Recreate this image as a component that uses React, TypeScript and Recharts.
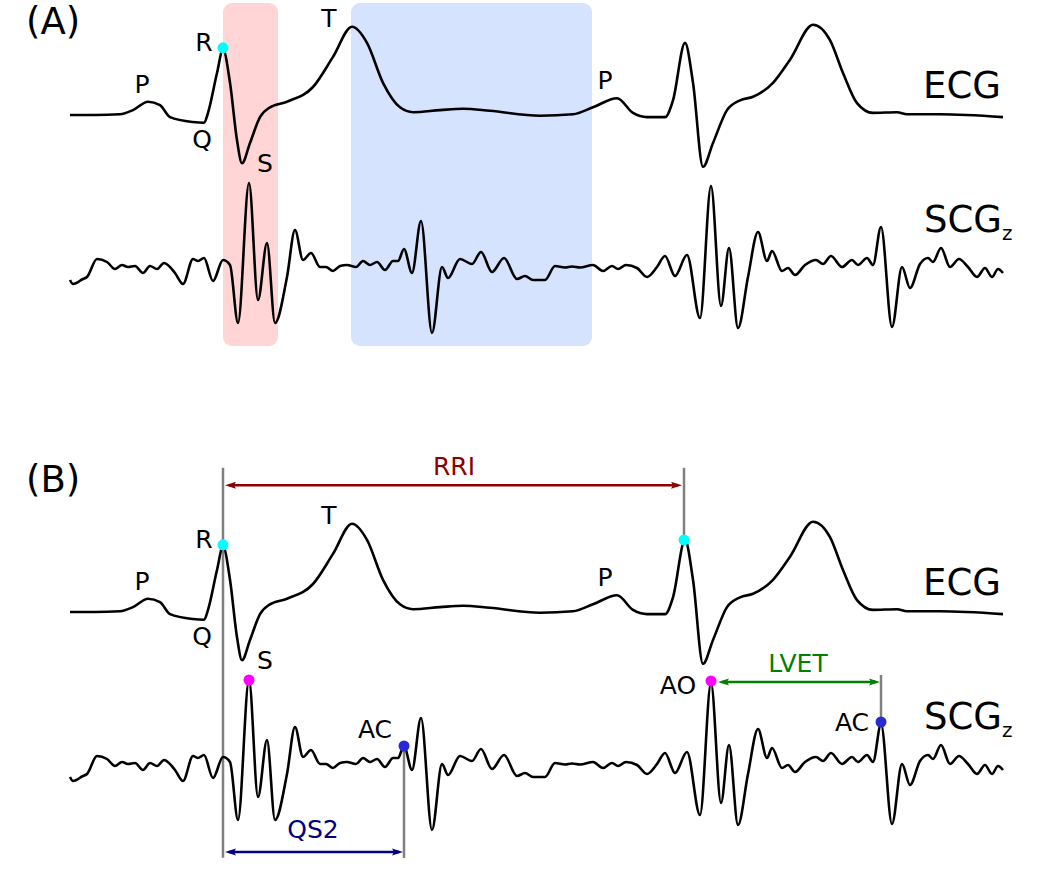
import React from 'react';
import {
  LineChart,
  Line,
  XAxis,
  YAxis,
  ReferenceArea,
  ReferenceLine,
  ReferenceDot
} from 'recharts';

const W = 1063;
const H = 879;
const FONT = '"DejaVu Sans", Verdana, sans-serif';

// ECG, time in ms, amplitude in mV
const ecgTime = [
  0, 50, 100, 126, 156, 180, 200, 246, 268, 276, 294, 306, 320, 334, 344, 360,
  380, 400, 434, 486, 526, 564, 594, 626, 660, 686, 740, 786, 840, 940, 1006,
  1046, 1094, 1126, 1154, 1190, 1206, 1230, 1246, 1266, 1286, 1314, 1340, 1366,
  1406, 1440, 1486, 1520, 1546, 1574, 1606, 1654, 1674, 1740, 1866
];
const ecgMv = [
  0, 0, 0.01, 0.07, 0.19, 0.14, -0.03, -0.1, -0.11, 0.03, 0.6, 0.94, 0.46,
  -0.36, -0.69, -0.4, -0.03, 0.11, 0.19, 0.4, 0.83, 1.26, 1.03, 0.46, 0.11,
  0.04, 0.07, 0.09, 0.06, -0.01, 0.01, 0.11, 0.24, 0.03, -0.03, -0.03, 0.21,
  1.03, 0.46, -0.74, -0.4, 0.07, 0.21, 0.26, 0.46, 0.79, 1.29, 1.07, 0.6, 0.17,
  0.03, 0.04, 0.01, 0.01, -0.03
];

// SCG (z axis), same time base, arbitrary units
const scgTime = [
  0, 6, 26, 34, 54, 74, 90, 104, 116, 130, 146, 160, 174, 188, 210, 226, 246,
  256, 268, 286, 306, 320, 336, 358, 376, 394, 410, 434, 450, 466, 482, 500,
  512, 526, 540, 554, 572, 586, 600, 614, 630, 646, 656, 668, 684, 702, 724,
  744, 756, 780, 804, 822, 844, 868, 894, 910, 926, 950, 970, 990, 1004, 1020,
  1046, 1066, 1084, 1096, 1112, 1134, 1154, 1174, 1190, 1210, 1234, 1260, 1282,
  1302, 1318, 1336, 1356, 1376, 1394, 1404, 1424, 1436, 1450, 1470, 1492, 1506,
  1522, 1544, 1564, 1576, 1594, 1606, 1622, 1644, 1664, 1680, 1700, 1716, 1726,
  1742, 1760, 1778, 1796, 1814, 1830, 1844, 1856, 1866
];
const scgAmp = [
  -0.2, -0.28, -0.18, -0.14, 0.22, 0.16, 0.02, 0.1, 0.06, 0.08, -0.06, 0.08,
  0.02, 0.14, -0.06, -0.28, 0.22, 0.18, 0.24, -0.22, 0.2, 0.1, -1.06, 1.74,
  -0.6, 0.54, -1.06, -0.14, 0.8, 0.2, 0.34, 0.06, 0.06, -0.02, 0.08, 0.1, 0.06,
  0.18, 0.1, 0.16, 0.0, 0.18, 0.18, 0.42, -0.06, 0.98, -1.26, 0.06, -0.16, 0.22,
  0.12, 0.36, -0.04, 0.24, -0.18, -0.12, -0.2, -0.2, 0.08, 0.05, 0.07, 0.05,
  0.1, -0.02, 0.08, 0.02, 0.1, 0.04, -0.14, 0.06, 0.28, -0.12, 0.3, -0.96, 1.68,
  -0.72, 0.44, -1.16, -0.14, 0.76, 0.18, 0.38, -0.02, 0.04, -0.1, 0.1, 0.2,
  0.12, 0.28, 0.06, 0.2, 0.1, 0.24, 0.1, 0.86, -1.14, 0.06, -0.36, 0.12, 0.24,
  0.16, 0.44, 0.06, 0.22, 0.06, -0.14, 0.04, -0.14, 0.02, -0.06
];

// ECG wave names
const waveNames = ['P', 'R', 'Q', 'S', 'T', 'P'];
const waveLabelTime = [144, 268, 264, 390, 518, 1070];
const waveLabelMv = [0.31, 0.91, -0.47, -0.81, 1.26, 0.37];

// fiducial points
const rPeakTime = [306, 1228];
const rPeakMv = [0.96, 1.03];
const aoTime = [358, 1282];
const aoAmp = [1.74, 1.72];
const acTime = [668, 1622];
const acAmp = [0.42, 0.9];

// highlighted windows in (A)
const shadeStart = [306, 562];
const shadeEnd = [416, 1044];
const shadeColors = ['#ffd5d5', '#d5e3fe'];

const ecgData = ecgTime.map((t, i) => ({ t, v: ecgMv[i] }));
const scgData = scgTime.map((t, i) => ({ t, v: scgAmp[i] }));

// y domain so that value 0 sits at baselinePx
const dom = (baselinePx: number, pxPerUnit: number) => [
  -(H - baselinePx) / pxPerUnit,
  baselinePx / pxPerUnit
];
const ECG_PX = 70;
const SCG_PX = 50;
const LABEL = 25;

const textAt = (text: string, size: number, color = '#000') => (p: any) => (
  <text
    x={p.cx}
    y={p.cy}
    textAnchor="middle"
    fontSize={size}
    fill={color}
    fontFamily={FONT}
  >
    {text}
  </text>
);

const arrowShape = (color: string, padL = 2, padR = 2) => (p: any) => {
  const xa = Math.min(p.x1, p.x2) + padL;
  const xb = Math.max(p.x1, p.x2) - padR;
  const y = p.y1;
  const len = 11;
  const hw = 3.5;
  return (
    <g>
      <line x1={xa + 4} y1={y} x2={xb - 4} y2={y} stroke={color} strokeWidth={2.4} />
      <polygon
        points={`${xa},${y} ${xa + len},${y - hw} ${xa + len - 2},${y} ${xa + len},${y + hw}`}
        fill={color}
      />
      <polygon
        points={`${xb},${y} ${xb - len},${y - hw} ${xb - len + 2},${y} ${xb - len},${y + hw}`}
        fill={color}
      />
    </g>
  );
};

const App = () => {
  const lines = [
    { id: 'ecgA', data: ecgData },
    { id: 'scgA', data: scgData },
    { id: 'ecgB', data: ecgData },
    { id: 'scgB', data: scgData }
  ];
  return (
    <div style={{ position: 'absolute', left: 0, top: 0, width: W, height: H, background: '#fff' }}>
      <LineChart width={W} height={H} margin={{ top: 0, right: 0, bottom: 0, left: 0 }}>
        <XAxis dataKey="t" type="number" domain={[-140, 1986]} allowDataOverflow hide />
        <YAxis yAxisId="ecgA" type="number" domain={dom(115, ECG_PX)} allowDataOverflow hide />
        <YAxis yAxisId="scgA" type="number" domain={dom(270, SCG_PX)} allowDataOverflow hide />
        <YAxis yAxisId="ecgB" type="number" domain={dom(612, ECG_PX)} allowDataOverflow hide />
        <YAxis yAxisId="scgB" type="number" domain={dom(767, SCG_PX)} allowDataOverflow hide />

        {shadeStart.map((s, i) => (
          <ReferenceArea
            key={'sh' + i}
            yAxisId="ecgA"
            x1={s}
            x2={shadeEnd[i]}
            y1={-3.3}
            y2={1.6}
            shape={(p: any) => (
              <rect x={p.x} y={p.y} width={p.width} height={p.height} rx={9} fill={shadeColors[i]} />
            )}
          />
        ))}

        {/* vertical markers in (B) */}
        <ReferenceLine
          yAxisId="ecgB"
          segment={[{ x: rPeakTime[0], y: 2.06 }, { x: rPeakTime[0], y: -3.51 }]}
          stroke="#808080"
          strokeWidth={2.5}
        />
        <ReferenceLine
          yAxisId="ecgB"
          segment={[{ x: rPeakTime[1], y: 2.06 }, { x: rPeakTime[1], y: rPeakMv[1] }]}
          stroke="#808080"
          strokeWidth={2.5}
        />
        <ReferenceLine
          yAxisId="scgB"
          segment={[{ x: acTime[0], y: acAmp[0] }, { x: acTime[0], y: -1.82 }]}
          stroke="#808080"
          strokeWidth={2.5}
        />
        <ReferenceLine
          yAxisId="scgB"
          segment={[{ x: acTime[1], y: 1.84 }, { x: acTime[1], y: acAmp[1] }]}
          stroke="#808080"
          strokeWidth={2.5}
        />

        {lines.map((l) => (
          <Line
            key={l.id}
            yAxisId={l.id}
            data={l.data}
            dataKey="v"
            type="monotone"
            stroke="#000"
            strokeWidth={2.6}
            dot={false}
            activeDot={false}
            isAnimationActive={false}
          />
        ))}

        {/* intervals */}
        <ReferenceLine
          yAxisId="ecgB"
          segment={[{ x: rPeakTime[0], y: 1.81 }, { x: rPeakTime[1], y: 1.81 }]}
          shape={arrowShape('#8b0000')}
        />
        <ReferenceLine
          yAxisId="scgB"
          segment={[{ x: rPeakTime[0], y: -1.7 }, { x: acTime[0], y: -1.7 }]}
          shape={arrowShape('#000080', 2, 1)}
        />
        <ReferenceLine
          yAxisId="scgB"
          segment={[{ x: aoTime[1], y: 1.7 }, { x: acTime[1], y: 1.7 }]}
          shape={arrowShape('#008000', 7, 1)}
        />

        {/* wave labels */}
        {['ecgA', 'ecgB'].map((ax) =>
          waveNames.map((n, i) => (
            <ReferenceDot
              key={ax + i}
              yAxisId={ax}
              x={waveLabelTime[i]}
              y={waveLabelMv[i]}
              r={0}
              shape={textAt(n, LABEL)}
            />
          ))
        )}

        {/* R peaks */}
        <ReferenceDot yAxisId="ecgA" x={rPeakTime[0]} y={rPeakMv[0]} r={5.5} fill="#00ffff" stroke="none" />
        {rPeakTime.map((t, i) => (
          <ReferenceDot key={'r' + i} yAxisId="ecgB" x={t} y={rPeakMv[i]} r={5.5} fill="#00ffff" stroke="none" />
        ))}
        {aoTime.map((t, i) => (
          <ReferenceDot key={'ao' + i} yAxisId="scgB" x={t} y={aoAmp[i]} r={5.5} fill="#ff00ff" stroke="none" />
        ))}
        {acTime.map((t, i) => (
          <ReferenceDot key={'ac' + i} yAxisId="scgB" x={t} y={acAmp[i]} r={5.5} fill="#2a2ad5" stroke="none" />
        ))}

        {/* SCG and interval labels */}
        <ReferenceDot yAxisId="scgB" x={610} y={0.58} r={0} shape={textAt('AC', LABEL)} />
        <ReferenceDot yAxisId="scgB" x={1216} y={1.46} r={0} shape={textAt('AO', LABEL)} />
        <ReferenceDot yAxisId="scgB" x={1564} y={0.72} r={0} shape={textAt('AC', LABEL)} />
        <ReferenceDot yAxisId="ecgB" x={768} y={1.96} r={0} shape={textAt('RRI', LABEL, '#8b0000')} />
        <ReferenceDot yAxisId="scgB" x={1456} y={1.9} r={0} shape={textAt('LVET', LABEL, '#008000')} />
        <ReferenceDot yAxisId="scgB" x={486} y={-1.42} r={0} shape={textAt('QS2', LABEL, '#000080')} />
      </LineChart>

      <svg
        width={W}
        height={H}
        style={{ position: 'absolute', left: 0, top: 0, pointerEvents: 'none' }}
        fontFamily={FONT}
      >
        <text x={26} y={34} fontSize={37}>(A)</text>
        <text x={26} y={492} fontSize={37}>(B)</text>
        <text x={1001} y={98} fontSize={37} textAnchor="end">ECG</text>
        <text x={1001} y={595} fontSize={37} textAnchor="end">ECG</text>
        <text x={924} y={232} fontSize={37}>
          SCG<tspan fontSize={20} dy={8}>z</tspan>
        </text>
        <text x={924} y={729} fontSize={37}>
          SCG<tspan fontSize={20} dy={8}>z</tspan>
        </text>
      </svg>
    </div>
  );
};

export default App;
